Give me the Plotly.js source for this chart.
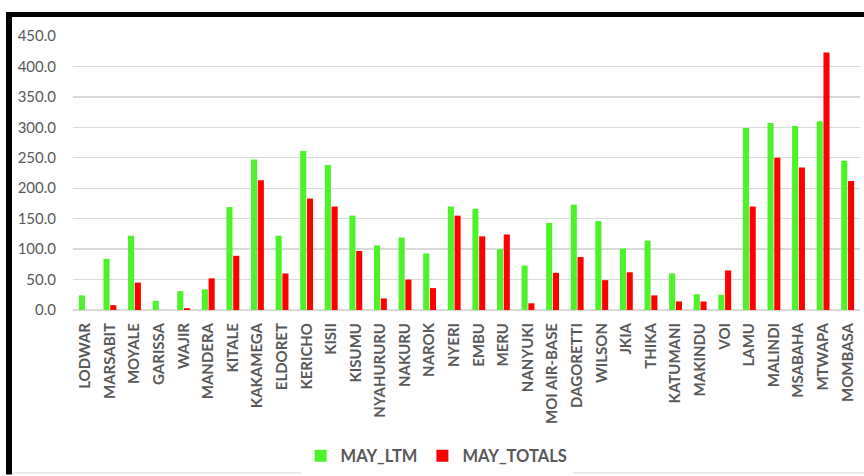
<!DOCTYPE html>
<html>
<head>
<meta charset="utf-8">
<script src="https://cdn.plot.ly/plotly-3.0.1.min.js"></script>
<style>
  html, body { margin: 0; padding: 0; background: #ffffff; }
  #chart { width: 864px; height: 476px; }
</style>
</head>
<body>
<div id="chart"></div>
<script>
const stations = ["LODWAR","MARSABIT","MOYALE","GARISSA","WAJIR","MANDERA","KITALE","KAKAMEGA","ELDORET","KERICHO","KISII","KISUMU","NYAHURURU","NAKURU","NAROK","NYERI","EMBU","MERU","NANYUKI","MOI AIR-BASE","DAGORETTI","WILSON","JKIA","THIKA","KATUMANI","MAKINDU","VOI","LAMU","MALINDI","MSABAHA","MTWAPA","MOMBASA"];
const mayLTM = [24,84,122,15,31,34,169,247,122,261,238,155,106,119,93,170,166,100,73,143,173,146,101,114,60,26,25,299,307,302,310,245];
const mayTotals = [0,8,45,0,3,52,89,213,60,183,170,97,19,50,36,155,121,124,11,61,87,49,62,24,14,14,65,170,250,234,423,212];
const yTickVals = [0,50,100,150,200,250,300,350,400,450];
const yTickText = ["0.0","50.0","100.0","150.0","200.0","250.0","300.0","350.0","400.0","450.0"];

// pixel helpers for frame shapes (plot area: x 73..860, y 36..311)
const L = 73, R = 860, T = 36, B = 311;
const px = p => (p - L) / (R - L);
const py = p => (B - p) / (B - T);

const traces = [
  { type: 'bar', name: 'MAY_LTM', x: stations, y: mayLTM, marker: { color: '#4df22a' } },
  { type: 'bar', name: 'MAY_TOTALS', x: stations, y: mayTotals, marker: { color: '#ff0000' } }
];

const layout = {
  width: 864, height: 476,
  paper_bgcolor: '#ffffff', plot_bgcolor: '#ffffff',
  margin: { l: L, r: 864 - R, t: T, b: 476 - B, pad: 0 },
  barmode: 'group', bargap: 0.45, bargroupgap: 0.1,
  font: { family: 'Lato, "Open Sans", sans-serif', color: '#595959' },
  showlegend: true,
  legend: {
    orientation: 'h', x: 0.462, xanchor: 'center', y: py(456), yanchor: 'middle',
    font: { size: 16.5, color: '#595959', family: 'Lato, sans-serif', weight: 'bold' },
    itemwidth: 30, traceorder: 'normal'
  },
  xaxis: {
    type: 'category', tickangle: -90, showgrid: false, showline: false, zeroline: false,
    ticks: '', ticklabelstandoff: 9,
    tickfont: { size: 15, color: '#595959', family: 'Lato, sans-serif', weight: 'bold' }
  },
  yaxis: {
    range: [0, 450], tickvals: yTickVals, ticktext: yTickText,
    showgrid: true, gridcolor: '#d9d9d9', gridwidth: 1.4,
    zeroline: true, zerolinecolor: '#d9d9d9', zerolinewidth: 1.4,
    showline: false, ticks: '', ticklabelstandoff: 16,
    tickfont: { size: 15, color: '#595959', family: 'Lato, sans-serif' }
  },
  shapes: [
    { type: 'rect', xref: 'paper', yref: 'paper', x0: px(6), x1: px(12), y0: py(476), y1: py(12), fillcolor: '#000000', line: { width: 0 }, layer: 'above' },
    { type: 'rect', xref: 'paper', yref: 'paper', x0: px(6), x1: px(864), y0: py(17), y1: py(12), fillcolor: '#000000', line: { width: 0 }, layer: 'above' },
    { type: 'line', xref: 'paper', yref: 'paper', x0: px(12), x1: px(864), y0: py(474.5), y1: py(474.5), line: { color: '#d9d9d9', width: 1 }, layer: 'above' }
  ]
};

Plotly.newPlot('chart', traces, layout, { displayModeBar: false, staticPlot: true });
</script>
</body>
</html>
